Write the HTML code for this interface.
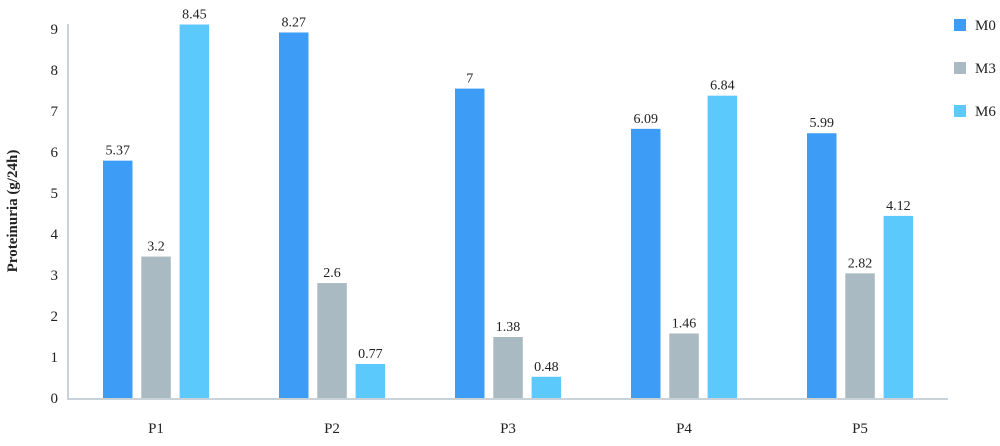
<!DOCTYPE html>
<html><head><meta charset="utf-8"><style>
body{margin:0;background:#fff}
svg{display:block;font-family:"Liberation Serif","DejaVu Serif",serif}
</style></head><body>
<svg id="chart" width="1000" height="446" viewBox="0 0 1000 446"></svg>
<script>
const categories=["P1","P2","P3","P4","P5"];
const seriesNames=["M0","M3","M6"];
const m0=[5.37,8.27,7,6.09,5.99];
const m3=[3.2,2.6,1.38,1.46,2.82];
const m6=[8.45,0.77,0.48,6.84,4.12];
const yTicks=[0,1,2,3,4,5,6,7,8,9];
const colors=["#3d9cf5","#aabac2","#5bc9fc"];
const ns="http://www.w3.org/2000/svg";
const svg=document.getElementById('chart');
const x0=68,x1=948,y0=398;
const band=(x1-x0)/categories.length;
function yTick(v){return y0-v*41;}
function yBar(v){return y0-v*44.2;}
function mk(t,a,p){const e=document.createElementNS(ns,t);for(const k in a)e.setAttribute(k,a[k]);(p||svg).appendChild(e);return e;}
// y axis
const ya=mk('line',{x1:x0,y1:24,x2:x0,y2:y0,stroke:'#c8d2d8','stroke-width':2});


yTicks.forEach(t=>{
  const tx=mk('text',{x:58,y:yTick(t)+5,'text-anchor':'end','font-size':15,fill:'#222'});
  tx.textContent=t;
  
  
});
const yt=mk('text',{x:0,y:0,transform:'translate(17,211) rotate(-90)','text-anchor':'middle','font-size':15,'font-weight':'bold',fill:'#222'});
yt.textContent='Proteinuria (g/24h)';


const series=[m0,m3,m6];
categories.forEach((c,i)=>{
  const cx=x0+band*i+band/2;
  series.forEach((s,j)=>{
    const bx=cx-53+j*38.3;
    const top=yBar(s[i]);
    const r=mk('rect',{x:bx,y:top,width:29.5,height:y0-top,fill:colors[j]});
    
    
    const l=mk('text',{x:bx+14.75,y:top-6,'text-anchor':'middle','font-size':14,fill:'#222'});
    l.textContent=s[i];
    
    
  });
  const xl=mk('text',{x:cx,y:433,'text-anchor':'middle','font-size':15,fill:'#222'});
  xl.textContent=c;
  
  
});
const xa=mk('line',{x1:x0-1,y1:y0+1,x2:x1,y2:y0+1,stroke:'#c8d2d8','stroke-width':2});


seriesNames.forEach((n,j)=>{
  const y=19+j*43;
  const sq=mk('rect',{x:954,y:y,width:12,height:12,fill:colors[j]});
  
  
  const t=mk('text',{x:975,y:y+11,'font-size':15,fill:'#222'});
  t.textContent=n;
  
  
});
</script>
</body></html>
